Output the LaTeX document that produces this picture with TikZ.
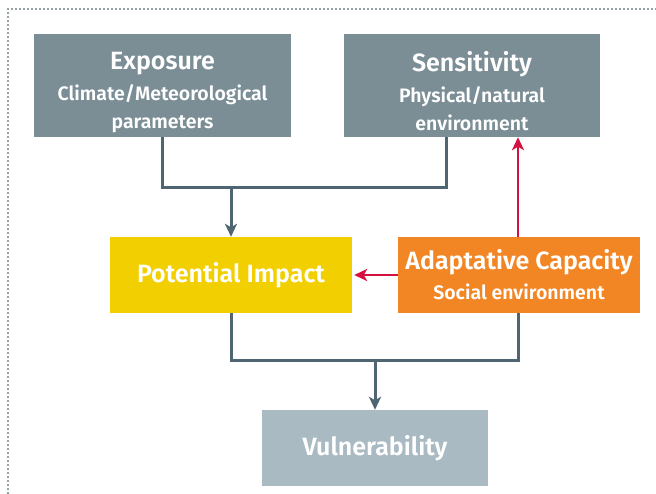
\documentclass[tikz,border=0pt]{standalone}
\usepackage{fontspec}
\setmainfont{Fira Sans}[BoldFont={Fira Sans SemiBold}]
\usepackage{tikz}
\usetikzlibrary{arrows.meta,positioning}

\definecolor{boxgray}{HTML}{7B8E96}
\definecolor{boxpale}{HTML}{AABAC3}
\definecolor{boxyellow}{HTML}{F2CF00}
\definecolor{boxorange}{HTML}{F28624}
\definecolor{linegray}{HTML}{4F6571}
\definecolor{linered}{HTML}{D5123F}

\newcommand{\subline}[1]{{\fontsize{19.5}{30}\selectfont #1}}
% extra room above the first line of the tall boxes
\newcommand{\headstrut}{\rule{0pt}{31pt}}

\begin{document}
\begin{tikzpicture}[
    x=1pt, y=-1pt,
    factor/.style={
        inner sep=0pt, align=center, text=white,
        font=\bfseries\fontsize{25}{30}\selectfont
    },
    topbox/.style={factor, fill=boxgray, minimum width=257pt, minimum height=103pt},
    midbox/.style={factor, minimum width=242pt, minimum height=76pt},
    endbox/.style={factor, fill=boxpale, minimum width=226pt, minimum height=76pt},
    edge/.style={draw=linegray, line width=3pt},
    arr/.style={edge, -{Stealth[length=13pt, width=12pt, inset=3.5pt]}},
    redarr/.style={draw=linered, line width=2.6pt, -{Stealth[length=13pt, width=12pt, inset=3.5pt]}}
]
\useasboundingbox (0,0) rectangle (656,493);

% frame, cut off at the right and bottom
\draw[boxgray!90!black, line width=2.3pt, line cap=round, dash pattern=on 0pt off 4pt]
    (8,493) -- (8,9) -- (656,9);

% 1. Exposure and sensitivity
\node[topbox] (expo) at (162.5,85.5)
    {\headstrut Exposure\\[1pt]\subline{Climate/Meteorological}\\[-2pt]\subline{parameters}};
\node[topbox, minimum width=256pt] (sens) at (472,85.5)
    {\headstrut Sensitivity\\[1pt]\subline{Physical/natural}\\[-2pt]\subline{environment}};

% 2. Impact and capacity
\node[midbox, fill=boxyellow] (impact) at (231,275) {Potential Impact};
\node[midbox, fill=boxorange] (capacity) at (519,275)
    {Adaptative Capacity\\[0pt]\subline{Social environment}};

% 3. Result
\node[endbox] (vuln) at (375,448) {Vulnerability};

\coordinate (mergeup) at (231,187);
\coordinate (mergelow) at (375,360);

% exposure + sensitivity -> impact
\draw[edge] (expo.south) |- (mergeup) -| ([xshift=-26pt]sens.south);
\draw[arr] (mergeup) -- (impact.north);

% capacity
\draw[redarr] (capacity.west) -- ([xshift=2pt]impact.east);
\draw[redarr] ([xshift=-1pt]capacity.north) -- ([xshift=-1pt]capacity.north |- sens.south);

% impact + capacity -> vulnerability
\draw[edge] (impact.south) |- (mergelow) -| ([xshift=-1pt]capacity.south);
\draw[arr] (mergelow) -- (vuln.north);

\end{tikzpicture}
\end{document}
